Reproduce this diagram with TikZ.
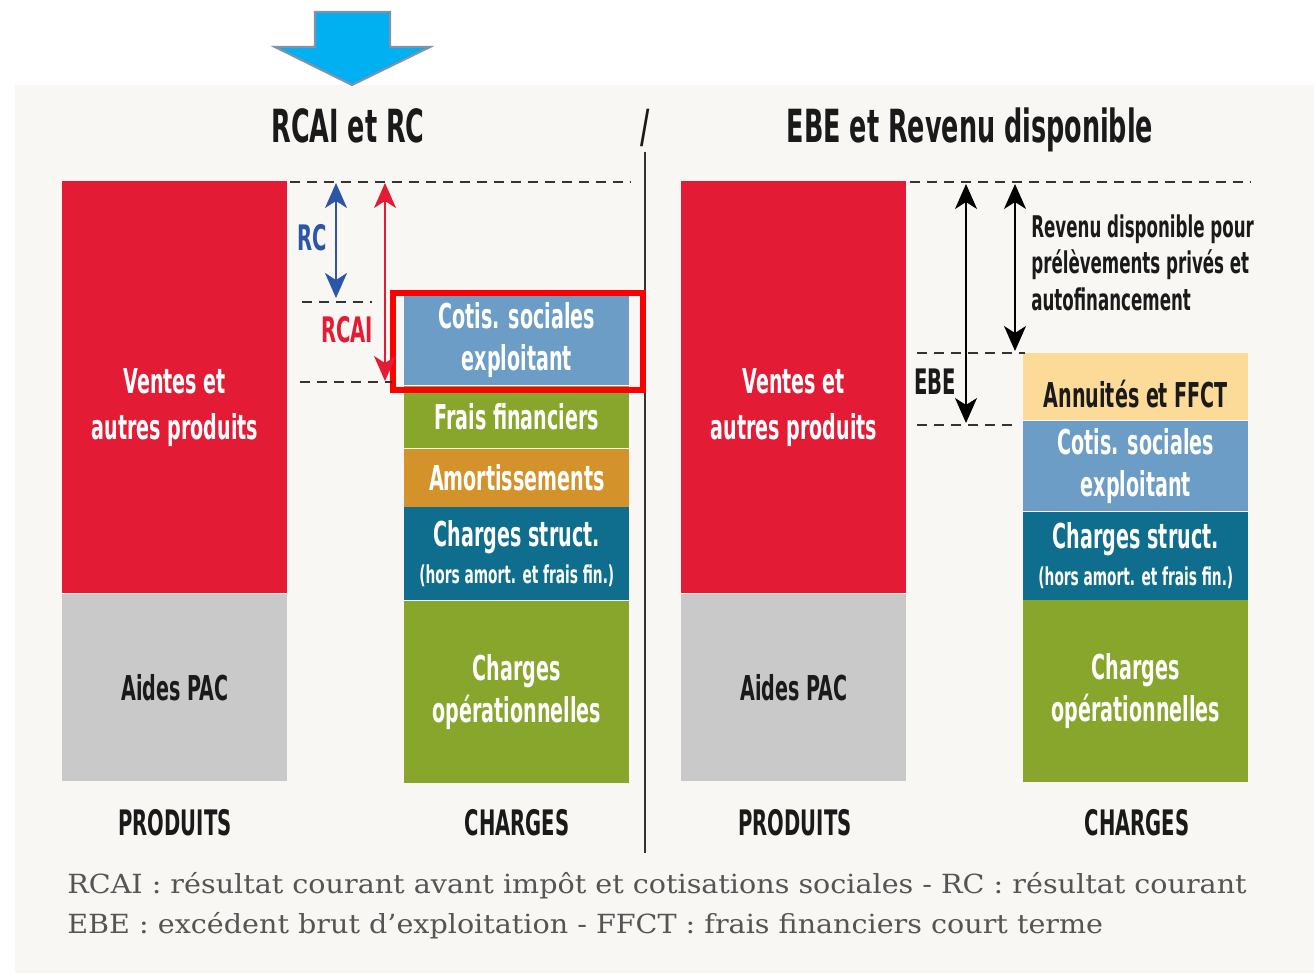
\documentclass[tikz,border=0pt]{standalone}
\usepackage{fontspec}
\newfontfamily\condfont{DejaVu Sans Condensed Bold}[FakeStretch=0.62]
\newfontfamily\legfont{DejaVu Serif}[FakeStretch=1.085]
\usepackage{tikz}
\usetikzlibrary{arrows.meta,positioning}
\definecolor{fond}{HTML}{F8F7F3}
\definecolor{rouge}{HTML}{E31B35}
\definecolor{gris}{HTML}{C9C9C9}
\definecolor{bleucotis}{HTML}{6B9DC7}
\definecolor{vert}{HTML}{89A62C}
\definecolor{orange}{HTML}{D4922A}
\definecolor{petrole}{HTML}{0F6E8E}
\definecolor{beige}{HTML}{FCDA98}
\definecolor{bleurc}{HTML}{2E56A8}
\definecolor{vif}{HTML}{FF0000}
\definecolor{bleuciel}{HTML}{00B0F0}
\definecolor{bordfleche}{HTML}{8192AD}
\definecolor{noir}{HTML}{1A1A1A}
\definecolor{gristiret}{HTML}{333333}
\definecolor{grislegende}{HTML}{555555}
% decale le texte vers le bas
\newcommand{\bas}[1]{\rule{0pt}{#1}}

\begin{document}
\begin{tikzpicture}[x=0.02cm,y=-0.02cm,
  bar/.style={inner sep=0pt, minimum width=4.5cm, text=white, align=center,
    font=\condfont\fontsize{19.5}{24}\selectfont},
  titre/.style={font=\condfont\fontsize{26}{30}\selectfont, text=noir, anchor=base},
  pied/.style={font=\condfont\fontsize{20}{24}\selectfont, text=noir, anchor=base},
  cote/.style={font=\condfont\fontsize{20}{24}\selectfont, inner sep=0pt},
  tiret/.style={draw=gristiret, line width=1.1pt, dash pattern=on 0.2cm off 0.14cm},
  fleche/.style={line width=1.1pt,
    {Stealth[length=0.5cm,width=0.44cm,inset=0.14cm]}-{Stealth[length=0.5cm,width=0.44cm,inset=0.14cm]}},
  legende/.style={font=\legfont\fontsize{15}{17}\selectfont, text=grislegende, anchor=base west, inner sep=0pt}]
\useasboundingbox (0,0) rectangle (1314,973);
\fill[fond] (15,85) rectangle (1314,973);
% fleche bleue
\draw[draw=bordfleche, fill=bleuciel, line width=1.2pt]
  (315,12) -- (390,12) -- (390,47) -- (430,47) -- (352,85) -- (275,47) -- (315,47) -- cycle;

% titres
\node[titre] (titreA) at (348,143) {RCAI et RC};
\node[titre] (barre) at (645,143) {/};
\node[titre] (titreB) at (970,143) {EBE et Revenu disponible};
\coordinate (sepHaut) at (645,152);
\coordinate (sepBas) at (645,853);
\draw[draw=gristiret, line width=1.2pt] (sepHaut) -- (sepBas);

% RCAI et RC
\node[bar, fill=rouge, minimum height=8.24cm, anchor=north west] (ventesA) at (62,181) {\bas{1.3cm}Ventes et\\[2pt]autres produits};
\node[bar, fill=gris, text=noir, minimum height=3.74cm, below=0pt of ventesA] (aidesA) {Aides PAC};
\node[bar, fill=bleucotis, minimum height=1.8cm, anchor=north west] (cotisA) at (404,295) {Cotis. sociales\\exploitant};
\node[bar, fill=vert, minimum height=1.24cm, below=0pt of cotisA] (fraisA) {Frais financiers};
\node[bar, fill=orange, minimum height=1.16cm, below=0pt of fraisA] (amortA) {Amortissements};
\node[bar, fill=petrole, minimum height=1.86cm, below=0pt of amortA] (structA) {Charges struct.\\[-3pt]{\fontsize{14}{16}\selectfont(hors amort. et frais fin.)}};
\node[bar, fill=vert, minimum height=3.64cm, below=0pt of structA] (operA) {Charges\\opérationnelles};
\node[pied] (produitsA) at (175,835) {PRODUITS};
\node[pied] (chargesA) at (517,835) {CHARGES};
\node[draw=vif, line width=3.4pt, inner sep=0pt, minimum width=5.0cm, minimum height=1.94cm, anchor=north west] (cadre) at (390,290) {};

\coordinate (hautA1) at (290,182);
\coordinate (hautA2) at (630,182);
\coordinate (rcA1) at (302,302);
\coordinate (rcA2) at (372,302);
\coordinate (rcaiA1) at (300,382);
\coordinate (rcaiA2) at (392,382);
\draw[tiret] (hautA1) -- (hautA2);
\draw[tiret] (rcA1) -- (rcA2);
\draw[tiret] (rcaiA1) -- (rcaiA2);
\coordinate (rcH) at (336,183);
\coordinate (rcB) at (336,298);
\coordinate (rcaiH) at (385,183);
\coordinate (rcaiB) at (385,381);
\draw[fleche, draw=bleurc, fill=bleurc] (rcH) -- (rcB);
\draw[fleche, draw=rouge, fill=rouge] (rcaiH) -- (rcaiB);
\node[cote, text=bleurc] (rc) at (312,238) {RC};
\node[cote, text=rouge] (rcai) at (347,330) {RCAI};

% EBE et Revenu disponible
\node[bar, fill=rouge, minimum height=8.24cm, anchor=north west] (ventesB) at (681,181) {\bas{1.3cm}Ventes et\\[2pt]autres produits};
\node[bar, fill=gris, text=noir, minimum height=3.74cm, below=0pt of ventesB] (aidesB) {Aides PAC};
\node[bar, fill=beige, text=noir, minimum height=1.34cm, anchor=north west] (annuitesB) at (1023,353) {\bas{0.85cm}Annuités et FFCT};
\node[bar, fill=bleucotis, minimum height=1.8cm, below=0pt of annuitesB] (cotisB) {Cotis. sociales\\exploitant};
\node[bar, fill=petrole, minimum height=1.76cm, below=0pt of cotisB] (structB) {Charges struct.\\[-3pt]{\fontsize{14}{16}\selectfont(hors amort. et frais fin.)}};
\node[bar, fill=vert, minimum height=3.64cm, below=0pt of structB] (operB) {Charges\\opérationnelles};
\node[pied] (produitsB) at (795,835) {PRODUITS};
\node[pied] (chargesB) at (1137,835) {CHARGES};

\coordinate (hautB1) at (910,182);
\coordinate (hautB2) at (1250,182);
\coordinate (revB1) at (917,353);
\coordinate (revB2) at (1025,353);
\coordinate (ebeB1) at (917,425);
\coordinate (ebeB2) at (1015,425);
\draw[tiret] (hautB1) -- (hautB2);
\draw[tiret] (revB1) -- (revB2);
\draw[tiret] (ebeB1) -- (ebeB2);
\coordinate (ebeH) at (966,184);
\coordinate (ebeB) at (966,423);
\coordinate (revH) at (1015,184);
\coordinate (revB) at (1015,351);
\draw[fleche, draw=black, fill=black] (ebeH) -- (ebeB);
\draw[fleche, draw=black, fill=black] (revH) -- (revB);
\node[cote, text=noir] (ebe) at (935,382) {EBE};
\node[cote, text=noir, align=left, anchor=north west, font=\condfont\fontsize{17}{21}\selectfont] (revenu) at (1031,214)
  {Revenu disponible pour\\prélèvements privés et\\autofinancement};

% legende
\node[legende] (legendeA) at (67,893) {RCAI : résultat courant avant impôt et cotisations sociales - RC : résultat courant};
\node[legende] (legendeB) at (67,933) {EBE : excédent brut d’exploitation - FFCT : frais financiers court terme};
\end{tikzpicture}
\end{document}
